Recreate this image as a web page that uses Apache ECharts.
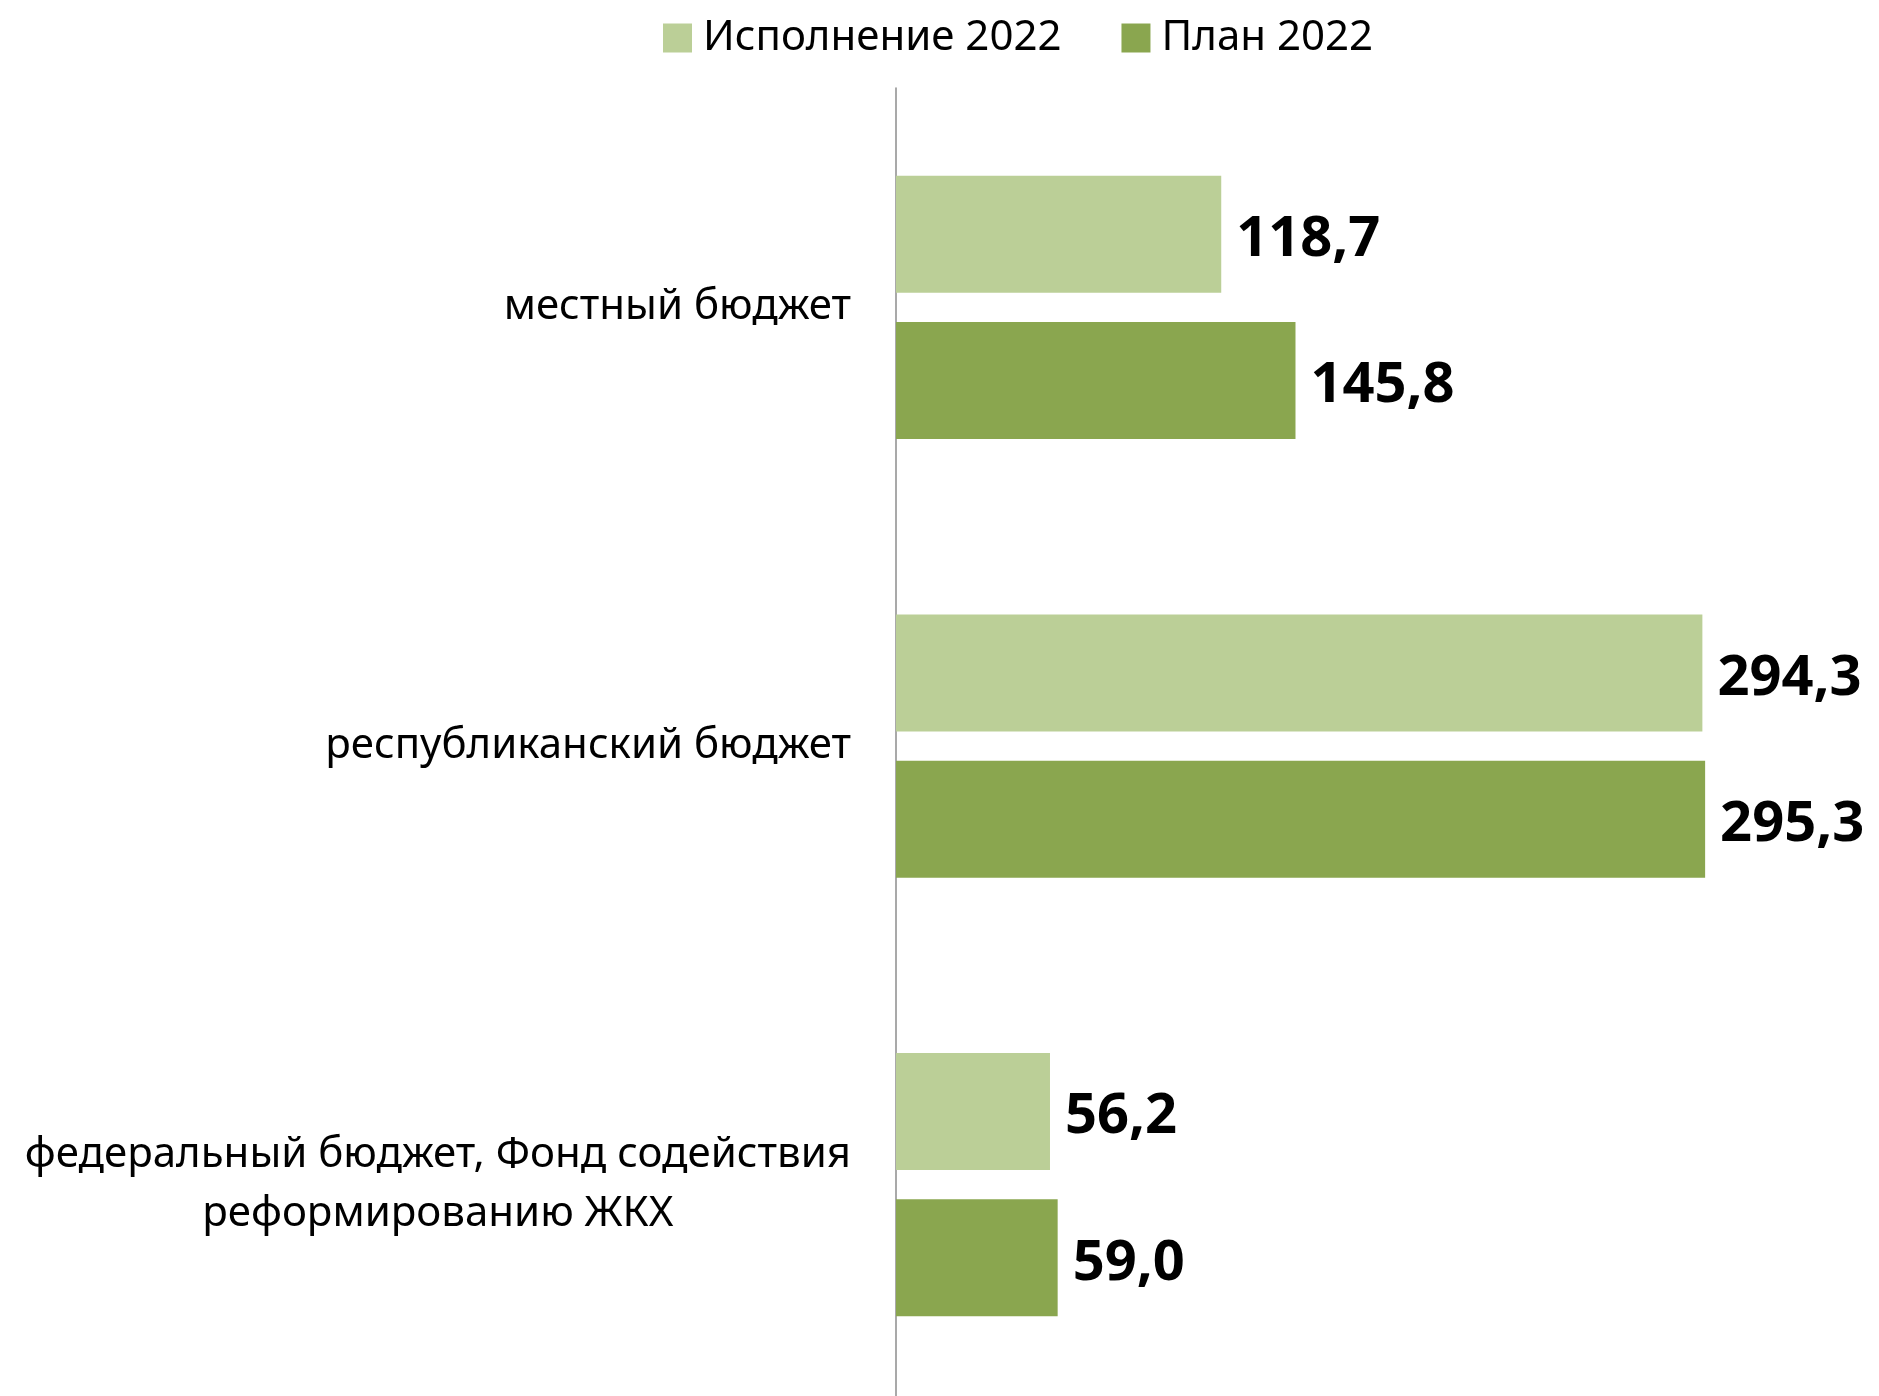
<!DOCTYPE html>
<html>
<head>
<meta charset="utf-8">
<style>
  html, body { margin: 0; padding: 0; background: #fff; overflow: hidden; }
  #chart { width: 1879px; height: 1406px; }
</style>
<script src="https://cdn.jsdelivr.net/npm/echarts@6/dist/echarts.min.js"></script>
</head>
<body>
<div id="chart"></div>
<script>
var categories = [
    'местный бюджет',
    'республиканский бюджет',
    'федеральный бюджет, Фонд содействия\nреформированию ЖКХ'
]
var seriesNames = ['Исполнение 2022', 'План 2022']
var factValues = [118.7, 294.3, 56.2]
var planValues = [145.8, 295.3, 59.0]

// the div is a bit taller than the window so the axis runs off the bottom edge
var chart = echarts.init(document.getElementById('chart'))

var valueLabel = {
    show: true,
    position: 'right',
    distance: 15,
    offset: [0, 6],
    color: '#000',
    fontFamily: 'Noto Sans',
    fontWeight: 'bold',
    fontSize: 56,
    formatter: function(p) {
        return p.value.toFixed(1).replace('.', ',')
    }
}

var option = {
    animation: false,
    backgroundColor: '#fff',
    legend: {
        top: 12,
        left: 658,
        itemWidth: 29,
        itemHeight: 29,
        itemGap: 60,
        icon: 'rect',
        textStyle: {
            color: '#000',
            fontFamily: 'Noto Sans',
            fontSize: 42,
            padding: [0, 0, 0, 6]
        },
        data: seriesNames
    },
    grid: {
        left: 896,
        top: 88,
        width: 822,
        height: 1316,
        containLabel: false
    },
    xAxis: {
        type: 'value',
        min: 0,
        max: 300,
        show: false,
        splitLine: { show: false }
    },
    yAxis: {
        type: 'category',
        inverse: true,
        data: categories,
        axisLine: { show: true, lineStyle: { color: '#8c8c8c', width: 1.5 } },
        axisTick: { show: false },
        axisLabel: {
            margin: 45,
            color: '#000',
            fontFamily: 'Noto Sans',
            fontSize: 42,
            lineHeight: 59,
            formatter: function(v) {
                return v.split('\n').map(function(s) { return '{c|' + s + '}' }).join('\n')
            },
            rich: {
                c: {
                    align: 'center',
                    color: '#000',
                    fontFamily: 'Noto Sans',
                    fontSize: 42,
                    lineHeight: 59
                }
            }
        }
    },
    series: [{
        name: seriesNames[0],
        type: 'bar',
        data: factValues,
        barWidth: 117,
        barGap: '25%',
        itemStyle: { color: '#BBCF97' },
        label: valueLabel
    }, {
        name: seriesNames[1],
        type: 'bar',
        data: planValues,
        barWidth: 117,
        barGap: '25%',
        itemStyle: { color: '#8AA64F' },
        label: valueLabel
    }]
}

chart.setOption(option)
</script>
</body>
</html>
